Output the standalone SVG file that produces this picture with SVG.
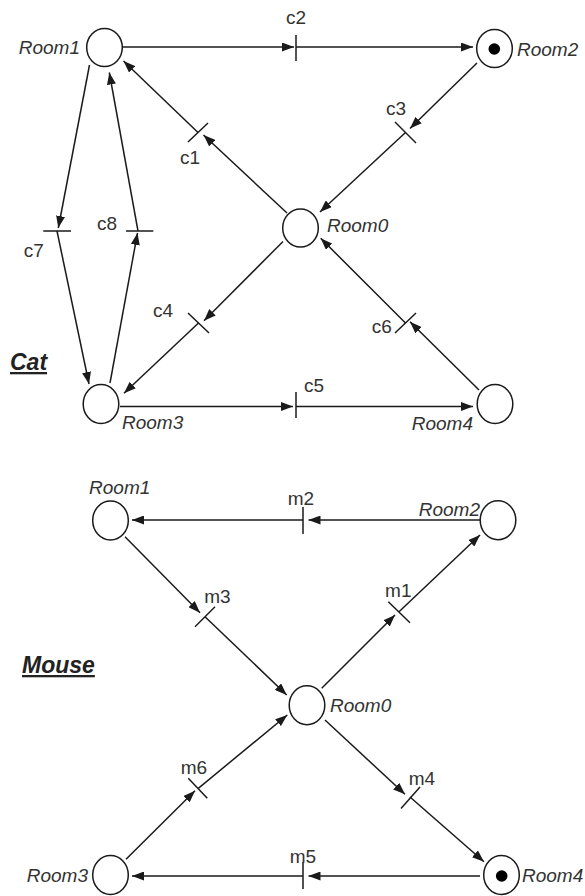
<svg xmlns="http://www.w3.org/2000/svg" width="585" height="896" viewBox="0 0 585 896">
<style>
.place{fill:#fff;stroke:#1a1a1a;stroke-width:1.5}
.token{fill:#000}
.bar{stroke:#1a1a1a;stroke-width:1.5;fill:none}
.arc{stroke:#1a1a1a;stroke-width:1.5;fill:none;marker-end:url(#ah)}
.lbl{font-family:"Liberation Sans",Arial,sans-serif;font-size:19px;fill:#333}
.room{font-family:"Liberation Sans",Arial,sans-serif;font-size:19px;font-style:italic;fill:#333}
.title{font-family:"Liberation Sans",Arial,sans-serif;font-size:23px;font-style:italic;font-weight:bold;fill:#222;text-decoration:underline}
</style>
<defs>
<marker id="ah" markerUnits="userSpaceOnUse" markerWidth="12" markerHeight="9" viewBox="0 0 12 9" refX="12" refY="4.5" orient="auto">
<path d="M0,0 L12,4.5 L0,9 z" fill="#1a1a1a"/>
</marker>
</defs>

<g id="connectors">
<!-- Cat -->
<line class="arc" x1="123" y1="47" x2="294" y2="47"/>
<line class="arc" x1="296" y1="47" x2="473" y2="47"/>
<line class="arc" x1="477" y1="63" x2="410" y2="128.5"/>
<line class="arc" x1="405.5" y1="132.5" x2="320" y2="212"/>
<line class="arc" x1="287" y1="213" x2="203.5" y2="135"/>
<line class="arc" x1="198" y1="132.5" x2="123.5" y2="61"/>
<line class="arc" x1="89.5" y1="65" x2="58.3" y2="228"/>
<line class="arc" x1="57" y1="231" x2="89" y2="384"/>
<line class="arc" x1="110" y1="383" x2="137.5" y2="233"/>
<line class="arc" x1="138" y1="231" x2="109.3" y2="72.5"/>
<line class="arc" x1="283" y1="241.5" x2="204" y2="320.7"/>
<line class="arc" x1="198.5" y1="323" x2="124" y2="393.3"/>
<line class="arc" x1="120" y1="406.5" x2="293" y2="406.5"/>
<line class="arc" x1="296" y1="406.5" x2="473" y2="406.5"/>
<line class="arc" x1="479" y1="390" x2="410" y2="321.7"/>
<line class="arc" x1="405.5" y1="323" x2="320.7" y2="238.3"/>
<!-- Mouse -->
<line class="arc" x1="480" y1="520" x2="308.5" y2="520"/>
<line class="arc" x1="303" y1="520" x2="132" y2="520"/>
<line class="arc" x1="125" y1="536.7" x2="200" y2="612.7"/>
<line class="arc" x1="205" y1="616.7" x2="286.7" y2="695"/>
<line class="arc" x1="321.7" y1="688.3" x2="395" y2="615"/>
<line class="arc" x1="399" y1="611.7" x2="480" y2="535"/>
<line class="arc" x1="325" y1="720" x2="405" y2="794.3"/>
<line class="arc" x1="410" y1="797" x2="484" y2="861.7"/>
<line class="arc" x1="480" y1="876" x2="308.5" y2="876"/>
<line class="arc" x1="303" y1="876" x2="132" y2="876"/>
<line class="arc" x1="126" y1="859.3" x2="195" y2="790.7"/>
<line class="arc" x1="198.3" y1="788.3" x2="287.3" y2="715"/>
</g>

<!-- Cat places -->
<g id="cat-room1"><ellipse class="place" cx="104.5" cy="47.5" rx="17.8" ry="19"/><text class="room" x="80" y="54" text-anchor="end">Room1</text></g>
<g id="cat-room2"><ellipse class="place" cx="494.5" cy="48.5" rx="17.8" ry="19"/><circle class="token" cx="494.3" cy="49" r="5.8"/><text class="room" x="517" y="56">Room2</text></g>
<g id="cat-room0"><ellipse class="place" cx="300.5" cy="228" rx="17.8" ry="19"/><text class="room" x="327" y="232">Room0</text></g>
<g id="cat-room3"><ellipse class="place" cx="101" cy="404" rx="17.8" ry="19.5"/><text class="room" x="122" y="429">Room3</text></g>
<g id="cat-room4"><ellipse class="place" cx="495" cy="404" rx="17.8" ry="19.5"/><text class="room" x="473" y="430" text-anchor="end">Room4</text></g>

<!-- Cat transitions -->
<g id="c1"><line class="bar" x1="188" y1="142" x2="208" y2="123"/><text class="lbl" x="190" y="164" text-anchor="middle">c1</text></g>
<g id="c2"><line class="bar" x1="296" y1="35" x2="296" y2="61"/><text class="lbl" x="296" y="24" text-anchor="middle">c2</text></g>
<g id="c3"><line class="bar" x1="395" y1="122" x2="416" y2="143"/><text class="lbl" x="396" y="115" text-anchor="middle">c3</text></g>
<g id="c4"><line class="bar" x1="188" y1="313" x2="209" y2="333"/><text class="lbl" x="163" y="316.5" text-anchor="middle">c4</text></g>
<g id="c5"><line class="bar" x1="296" y1="392" x2="296" y2="418"/><text class="lbl" x="314" y="391.5" text-anchor="middle">c5</text></g>
<g id="c6"><line class="bar" x1="395" y1="333" x2="416" y2="313"/><text class="lbl" x="381.7" y="333" text-anchor="middle">c6</text></g>
<g id="c7"><line class="bar" x1="43.3" y1="231" x2="71" y2="231"/><text class="lbl" x="33.7" y="257" text-anchor="middle">c7</text></g>
<g id="c8"><line class="bar" x1="126" y1="231" x2="153.3" y2="231"/><text class="lbl" x="107" y="230" text-anchor="middle">c8</text></g>

<g id="cat-title"><text class="title" x="10" y="370">Cat</text></g>

<!-- Mouse places -->
<g id="mouse-room1"><ellipse class="place" cx="110.5" cy="520.5" rx="17.8" ry="19.5"/><text class="room" x="119.7" y="494" text-anchor="middle">Room1</text></g>
<g id="mouse-room2"><ellipse class="place" cx="498" cy="520.3" rx="17.8" ry="19.5"/><text class="room" x="480" y="516" text-anchor="end">Room2</text></g>
<g id="mouse-room0"><ellipse class="place" cx="307" cy="705.3" rx="17.8" ry="19.5"/><text class="room" x="330" y="711.5">Room0</text></g>
<g id="mouse-room3"><ellipse class="place" cx="110.5" cy="875" rx="17.8" ry="19.5"/><text class="room" x="88" y="882" text-anchor="end">Room3</text></g>
<g id="mouse-room4"><ellipse class="place" cx="501.5" cy="875" rx="17.8" ry="19.5"/><circle class="token" cx="501.7" cy="876" r="5.8"/><text class="room" x="522" y="882">Room4</text></g>

<!-- Mouse transitions -->
<g id="m1"><line class="bar" x1="388.3" y1="601.7" x2="410" y2="622.7"/><text class="lbl" x="398.3" y="597" text-anchor="middle">m1</text></g>
<g id="m2"><line class="bar" x1="303" y1="507" x2="303" y2="534"/><text class="lbl" x="301" y="505" text-anchor="middle">m2</text></g>
<g id="m3"><line class="bar" x1="195" y1="626.7" x2="215" y2="606.7"/><text class="lbl" x="217.5" y="603" text-anchor="middle">m3</text></g>
<g id="m4"><line class="bar" x1="401" y1="808.5" x2="420" y2="787"/><text class="lbl" x="422" y="785" text-anchor="middle">m4</text></g>
<g id="m5"><line class="bar" x1="303" y1="862" x2="303" y2="889"/><text class="lbl" x="303" y="863" text-anchor="middle">m5</text></g>
<g id="m6"><line class="bar" x1="188.3" y1="778.3" x2="207.3" y2="798.3"/><text class="lbl" x="194" y="774" text-anchor="middle">m6</text></g>

<g id="mouse-title"><text class="title" x="22" y="673">Mouse</text></g>
</svg>
